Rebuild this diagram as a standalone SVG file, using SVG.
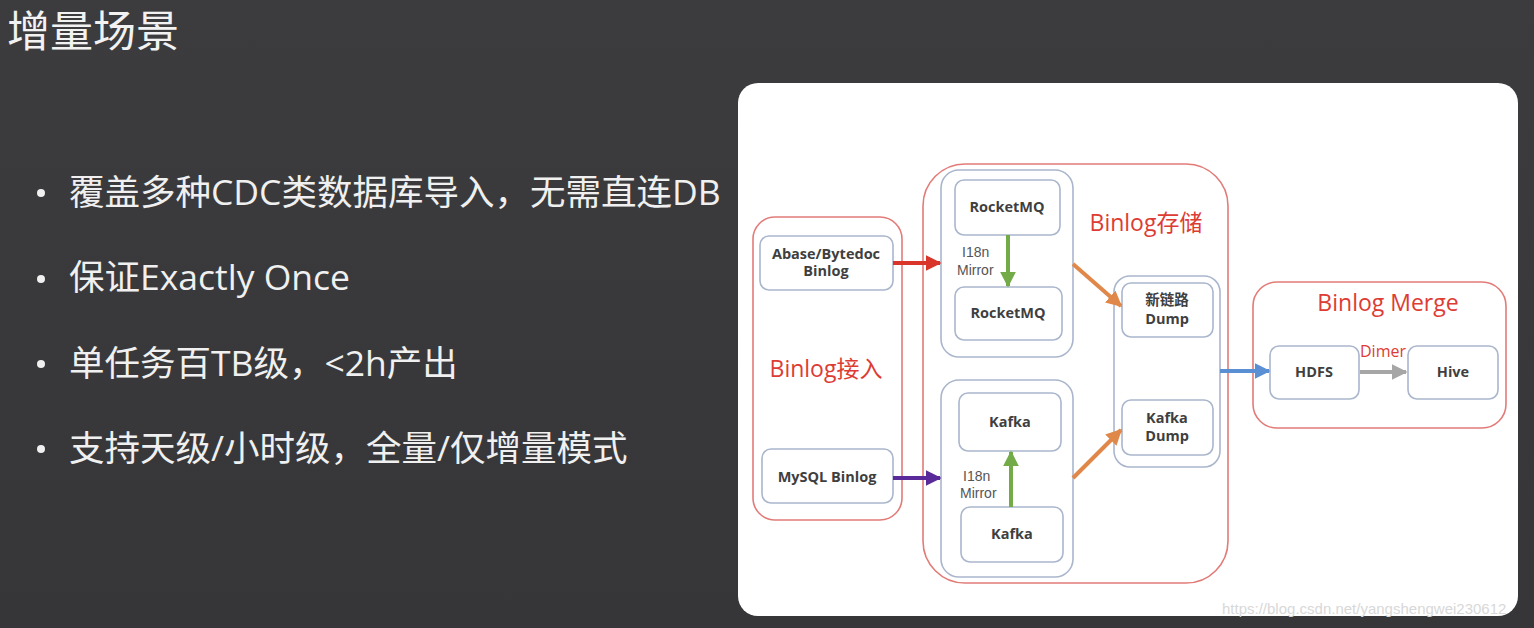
<svg xmlns="http://www.w3.org/2000/svg" width="1534" height="628" viewBox="0 0 1534 628">
<defs>
<linearGradient id="bg" x1="0" y1="0" x2="0" y2="1">
<stop offset="0" stop-color="#3c3c3f"/>
<stop offset="1" stop-color="#363639"/>
</linearGradient>
<marker id="mRed" viewBox="0 0 10 10" refX="9" refY="5" markerWidth="4" markerHeight="4" orient="auto"><path d="M0,0L10,5L0,10z" fill="#d9352b"/></marker>
<marker id="mPur" viewBox="0 0 10 10" refX="9" refY="5" markerWidth="4" markerHeight="4" orient="auto"><path d="M0,0L10,5L0,10z" fill="#5b2a9a"/></marker>
<marker id="mGrn" viewBox="0 0 10 10" refX="9" refY="5" markerWidth="4" markerHeight="4" orient="auto"><path d="M0,0L10,5L0,10z" fill="#72ab48"/></marker>
<marker id="mOrg" viewBox="0 0 10 10" refX="9" refY="5" markerWidth="4" markerHeight="4" orient="auto"><path d="M0,0L10,5L0,10z" fill="#e0884a"/></marker>
<marker id="mBlu" viewBox="0 0 10 10" refX="9" refY="5" markerWidth="4" markerHeight="4" orient="auto"><path d="M0,0L10,5L0,10z" fill="#5b8fd4"/></marker>
<marker id="mGry" viewBox="0 0 10 10" refX="9" refY="5" markerWidth="4" markerHeight="4" orient="auto"><path d="M0,0L10,5L0,10z" fill="#a6a6a6"/></marker>
</defs>
<style>
.title{font-family:"Open Sans","Noto Sans CJK SC",sans-serif;font-size:43px;fill:#f2f2f2}
.bul{font-family:"Open Sans","Noto Sans CJK SC",sans-serif;font-size:35.5px;fill:#f0f0f0}
.dot{fill:#f0f0f0}
.grp{fill:none;stroke:#e27b78;stroke-width:1.6}
.sub{fill:none;stroke:#aab6cc;stroke-width:1.6}
.box{fill:#fff;stroke:#aab6cc;stroke-width:1.6}
.lbl{font-family:"Open Sans","Noto Sans CJK SC",sans-serif;font-size:14.5px;font-weight:bold;fill:#3f3f3f;text-anchor:middle}
.glbl{font-family:"Open Sans","Noto Sans CJK SC",sans-serif;font-size:23px;fill:#dd3c34;text-anchor:middle}
.mir{font-family:"Liberation Sans","Noto Sans CJK SC",sans-serif;font-size:14px;fill:#555}
.dim{font-family:"Open Sans",sans-serif;font-size:16px;fill:#dd3c34}
.wm{font-family:"Liberation Sans",sans-serif;font-size:15px;fill:#d8d8d8}
</style>
<rect x="0" y="0" width="1534" height="628" fill="url(#bg)"/>
<g id="slide-text">
<text class="title" x="7" y="47">增量场景</text>
<circle class="dot" cx="41" cy="193" r="4"/>
<text class="bul" x="69" y="205">覆盖多种CDC类数据库导入，无需直连DB</text>
<circle class="dot" cx="41" cy="279" r="4"/>
<text class="bul" x="69" y="290">保证Exactly Once</text>
<circle class="dot" cx="41" cy="364" r="4"/>
<text class="bul" x="69" y="376">单任务百TB级，&lt;2h产出</text>
<circle class="dot" cx="41" cy="449" r="4"/>
<text class="bul" x="69" y="461">支持天级/小时级，全量/仅增量模式</text>
</g>
<rect id="panel" x="738" y="83" width="780" height="533" rx="20" fill="#ffffff"/>
<g id="binlog-access">
<rect class="grp" x="753" y="217" width="149" height="303" rx="22"/>
<text class="glbl" x="826" y="377">Binlog接入</text>
</g>
<g id="abase">
<rect class="box" x="760" y="236" width="133" height="54" rx="9"/>
<text class="lbl" x="826" y="259">Abase/Bytedoc</text>
<text class="lbl" x="826" y="276">Binlog</text>
</g>
<g id="mysql">
<rect class="box" x="762" y="449" width="131" height="54" rx="9"/>
<text class="lbl" x="827" y="482">MySQL Binlog</text>
</g>
<g id="binlog-storage">
<rect class="grp" x="923" y="164" width="305" height="419" rx="42"/>
<text class="glbl" x="1146" y="231">Binlog存储</text>
</g>
<g id="rocket-group">
<rect class="sub" x="941" y="170" width="132" height="187" rx="18"/>
<text class="mir" x="962" y="257">I18n</text>
<text class="mir" x="957" y="275">Mirror</text>
</g>
<g id="rocketmq1">
<rect class="box" x="955" y="180" width="105" height="55" rx="9"/>
<text class="lbl" x="1007" y="212">RocketMQ</text>
</g>
<g id="rocketmq2">
<rect class="box" x="955" y="287" width="107" height="53" rx="9"/>
<text class="lbl" x="1008" y="318">RocketMQ</text>
</g>
<g id="kafka-group">
<rect class="sub" x="941" y="380" width="132" height="197" rx="18"/>
<text class="mir" x="963" y="481">I18n</text>
<text class="mir" x="960" y="498">Mirror</text>
</g>
<g id="kafka1">
<rect class="box" x="959" y="393" width="102" height="58" rx="9"/>
<text class="lbl" x="1010" y="427">Kafka</text>
</g>
<g id="kafka2">
<rect class="box" x="961" y="507" width="102" height="55" rx="9"/>
<text class="lbl" x="1012" y="539">Kafka</text>
</g>
<g id="dump-group">
<rect class="sub" x="1114" y="276" width="106" height="191" rx="16"/>
</g>
<g id="new-dump">
<rect class="box" x="1122" y="283" width="91" height="54" rx="9"/>
<text class="lbl" x="1167" y="305">新链路</text>
<text class="lbl" x="1167" y="324">Dump</text>
</g>
<g id="kafka-dump">
<rect class="box" x="1122" y="400" width="91" height="55" rx="9"/>
<text class="lbl" x="1167" y="423">Kafka</text>
<text class="lbl" x="1167" y="441">Dump</text>
</g>
<g id="binlog-merge">
<rect class="grp" x="1253" y="282" width="253" height="146" rx="24"/>
<text class="glbl" x="1388" y="311">Binlog Merge</text>
</g>
<g id="hdfs">
<rect class="box" x="1270" y="346" width="89" height="53" rx="9"/>
<text class="lbl" x="1314" y="377">HDFS</text>
</g>
<g id="hive">
<rect class="box" x="1408" y="346" width="90" height="53" rx="9"/>
<text class="lbl" x="1453" y="377">Hive</text>
</g>
<g id="connectors" fill="none" stroke-width="4">
<line x1="893" y1="263" x2="940" y2="263" stroke="#d9352b" marker-end="url(#mRed)"/>
<line x1="893" y1="478" x2="940" y2="478" stroke="#5b2a9a" marker-end="url(#mPur)"/>
<line x1="1008" y1="235" x2="1008" y2="286" stroke="#72ab48" marker-end="url(#mGrn)"/>
<line x1="1011" y1="507" x2="1011" y2="452" stroke="#72ab48" marker-end="url(#mGrn)"/>
<line x1="1073" y1="264" x2="1121" y2="306" stroke="#e0884a" marker-end="url(#mOrg)"/>
<line x1="1073" y1="478" x2="1121" y2="430" stroke="#e0884a" marker-end="url(#mOrg)"/>
<line x1="1220" y1="371" x2="1269" y2="371" stroke="#5b8fd4" marker-end="url(#mBlu)"/>
<line x1="1360" y1="372" x2="1406" y2="372" stroke="#a6a6a6" marker-end="url(#mGry)"/>
<text class="dim" x="1360" y="357" stroke="none">Dimer</text>
</g>
<text class="wm" x="1222" y="614">https://blog.csdn.net/yangshengwei230612</text>
</svg>
